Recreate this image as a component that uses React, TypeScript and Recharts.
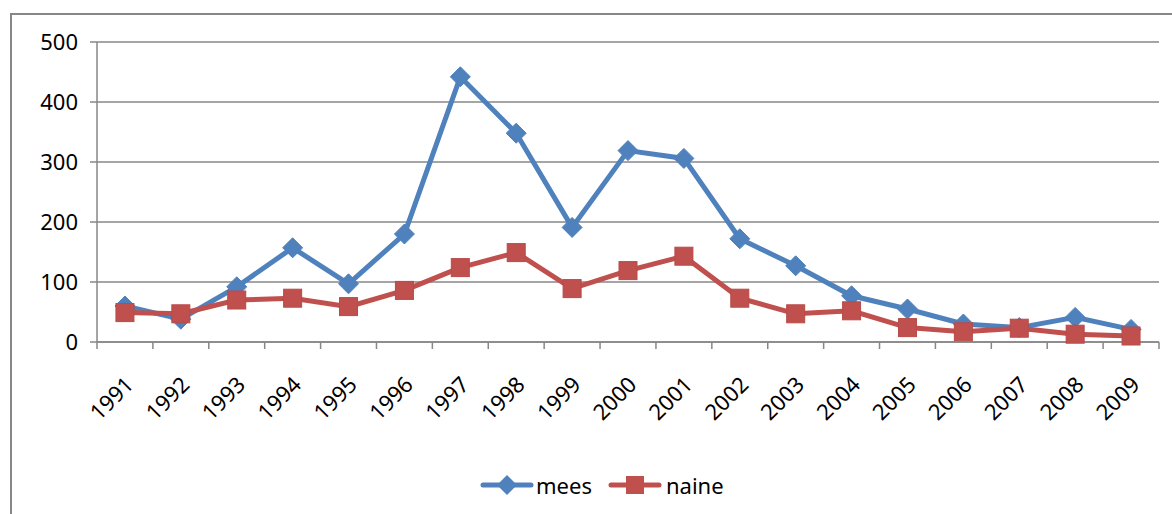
import React from 'react'
import { LineChart, Line, XAxis, YAxis, CartesianGrid } from 'recharts'

const years = [
  '1991', '1992', '1993', '1994', '1995', '1996', '1997', '1998', '1999', '2000',
  '2001', '2002', '2003', '2004', '2005', '2006', '2007', '2008', '2009',
]
const mees = [60, 38, 92, 157, 97, 180, 442, 348, 191, 319, 306, 172, 127, 77, 55, 30, 24, 41, 21]
const naine = [49, 47, 70, 73, 59, 86, 124, 149, 89, 119, 143, 73, 47, 52, 24, 17, 23, 13, 10]
const yTicks = [0, 100, 200, 300, 400, 500]

const BLUE = '#4F81BD'
const RED = '#C0504D'
const GREY = '#878787'
const FONT = '"Noto Sans", "Open Sans", sans-serif'
const PLOT_W = 1062
const BAND = PLOT_W / years.length

const data = years.map((year, i) => ({ year, mees: mees[i], naine: naine[i] }))

function Diamond(props: any) {
  const { cx, cy } = props
  if (cx == null || cy == null) return null
  const r = 10
  return (
    <path
      d={`M${cx},${cy - r} L${cx + r},${cy} L${cx},${cy + r} L${cx - r},${cy} Z`}
      fill={BLUE}
      stroke={BLUE}
    />
  )
}

function Square(props: any) {
  const { cx, cy } = props
  if (cx == null || cy == null) return null
  const s = 9
  return <rect x={cx - s} y={cy - s} width={s * 2} height={s * 2} fill={RED} stroke="#b84a47" strokeWidth={1} />
}

function YearTick(props: any) {
  const { x, y, payload, index } = props
  const axisY = y - 8
  return (
    <g>
      <line x1={x - BAND / 2} y1={axisY} x2={x - BAND / 2} y2={axisY + 7} stroke={GREY} strokeWidth={1.5} />
      {index === years.length - 1 && (
        <line x1={x + BAND / 2} y1={axisY} x2={x + BAND / 2} y2={axisY + 7} stroke={GREY} strokeWidth={1.5} />
      )}
      <text
        x={x + 10}
        y={axisY + 44}
        transform={`rotate(-45, ${x + 10}, ${axisY + 44})`}
        textAnchor="end"
        fontSize={22}
        fontFamily={FONT}
        fill="#000"
      >
        {payload.value}
      </text>
    </g>
  )
}

function LegendIcon({ kind }: { kind: 'diamond' | 'square' }) {
  const color = kind === 'diamond' ? BLUE : RED
  return (
    <svg width={54} height={22} style={{ verticalAlign: 'middle' }}>
      <line x1={3} y1={11} x2={51} y2={11} stroke={color} strokeWidth={5} strokeLinecap="round" />
      {kind === 'diamond' ? (
        <path d="M27,1 L37,11 L27,21 L17,11 Z" fill={color} />
      ) : (
        <rect x={18} y={2} width={18} height={18} fill={color} />
      )}
    </svg>
  )
}

export default function App() {
  return (
    <div style={{ position: 'absolute', left: 0, top: 0, width: 1172, height: 514, background: '#fff', overflow: 'hidden' }}>
      <div
        style={{
          position: 'absolute',
          left: 10,
          top: 13,
          width: 1200,
          height: 600,
          borderLeft: `2px solid ${GREY}`,
          borderTop: `2px solid ${GREY}`,
        }}
      />
      <div style={{ position: 'absolute', left: 0, top: 0 }}>
        <LineChart width={1172} height={514} data={data} margin={{ top: 42, right: 13, bottom: 72, left: 0 }}>
          <CartesianGrid vertical={false} stroke={GREY} strokeWidth={1.5} />
          <XAxis
            dataKey="year"
            height={100}
            interval={0}
            padding={{ left: BAND / 2, right: BAND / 2 }}
            axisLine={{ stroke: GREY, strokeWidth: 1.5 }}
            tickLine={false}
            tick={<YearTick />}
          />
          <YAxis
            domain={[0, 500]}
            ticks={yTicks}
            width={97}
            axisLine={{ stroke: GREY, strokeWidth: 1.5 }}
            tickLine={{ stroke: GREY, strokeWidth: 1.5 }}
            tickSize={7}
            tickMargin={12}
            tick={{ fontSize: 22, fontFamily: FONT, fill: '#000' }}
          />
          <Line
            dataKey="mees"
            stroke={BLUE}
            strokeWidth={5}
            dot={<Diamond />}
            activeDot={false}
            isAnimationActive={false}
          />
          <Line
            dataKey="naine"
            stroke={RED}
            strokeWidth={5}
            dot={<Square />}
            activeDot={false}
            isAnimationActive={false}
          />
        </LineChart>
      </div>
      <div
        style={{
          position: 'absolute',
          left: 480,
          top: 470,
          display: 'flex',
          alignItems: 'center',
          fontFamily: FONT,
          fontSize: 22,
          color: '#000',
        }}
      >
        <LegendIcon kind="diamond" />
        <span style={{ marginLeft: 2, marginRight: 16 }}>mees</span>
        <LegendIcon kind="square" />
        <span style={{ marginLeft: 4 }}>naine</span>
      </div>
    </div>
  )
}
